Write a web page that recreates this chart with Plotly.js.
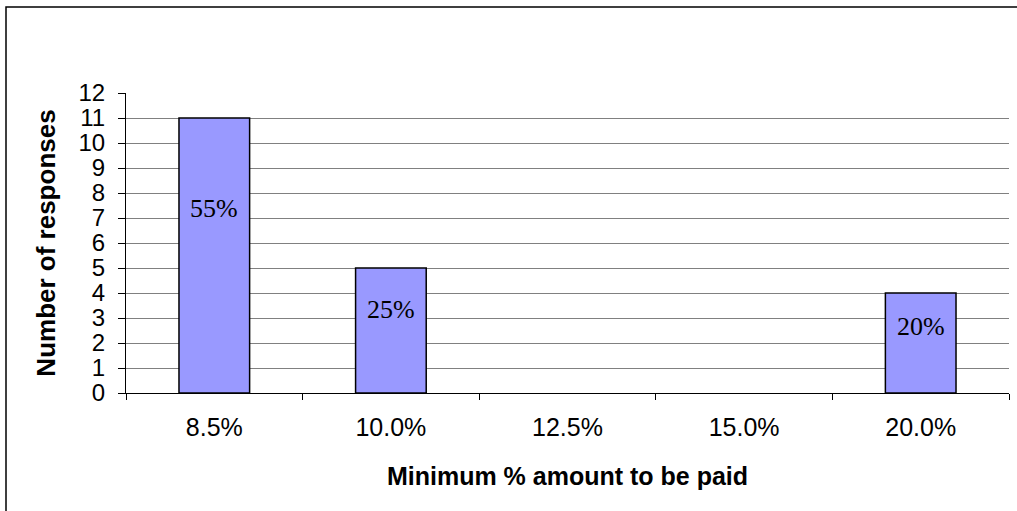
<!DOCTYPE html>
<html>
<head>
<meta charset="utf-8">
<script src="https://cdn.plot.ly/plotly-3.0.1.min.js"></script>
<style>html,body{margin:0;padding:0;background:#fff;}#chart{width:1017px;height:511px;}</style>
</head>
<body>
<div id="chart"></div>
<script>
const categories = ["8.5%", "10.0%", "12.5%", "15.0%", "20.0%"];
const responses = [11, 5, 0, 0, 4];
const shareLabels = ["55%", "25%", "", "", "20%"];
const yTicks = [0,1,2,3,4,5,6,7,8,9,10,11,12];
const gridTicks = [1,2,3,4,5,6,7,8,9,10,11];

const sans = "Liberation Sans, Arial, sans-serif";
const serif = "Liberation Serif, Times New Roman, serif";

const trace = {
  type: "bar",
  x: categories,
  y: responses,
  width: 0.4,
  marker: {color: "#9999FF", line: {color: "#000000", width: responses.map(v => v > 0 ? 1.5 : 0)}},
  hoverinfo: "none"
};
const gridTrace = {
  type: "scatter", x: [categories[0]], y: [null], yaxis: "y2", xaxis: "x", showlegend: false, hoverinfo: "none"
};

const annotations = categories.map((c, i) => ({
  x: c, y: responses[i] * 0.67, xref: "x", yref: "y",
  text: shareLabels[i], showarrow: false,
  font: {family: serif, size: 26, color: "#000"}
})).filter(a => a.text);

const layout = {
  width: 1017, height: 511,
  margin: {l: 126, r: 8, t: 93, b: 118},
  paper_bgcolor: "#fff", plot_bgcolor: "rgba(0,0,0,0)",
  showlegend: false,
  xaxis: {
    type: "category",
    tickson: "boundaries",
    ticks: "outside", ticklen: 6, tickcolor: "#000", tickwidth: 1,
    showline: true, linecolor: "#000", linewidth: 1,
    showgrid: false,
    tickfont: {family: sans, size: 25, color: "#000"},
    ticklabelstandoff: 12,
    title: {text: "<b>Minimum % amount to be paid</b>", font: {family: sans, size: 25, color: "#000"}, standoff: 27},
    automargin: false, fixedrange: true
  },
  yaxis: {
    range: [0, 12],
    tickvals: yTicks,
    ticks: "outside", ticklen: 7, tickcolor: "#000", tickwidth: 1,
    showline: true, linecolor: "#000", linewidth: 1,
    showgrid: false, zeroline: false,
    tickfont: {family: sans, size: 24, color: "#000"},
    ticklabelstandoff: 8,
    title: {text: "<b>Number of responses</b>", font: {family: sans, size: 26, color: "#000"}, standoff: 15},
    automargin: false, fixedrange: true
  },
  yaxis2: {
    overlaying: "y", range: [0, 12],
    tickvals: gridTicks, showticklabels: false, ticks: "",
    showgrid: true, gridcolor: "#808080", gridwidth: 1,
    zeroline: false, showline: false, fixedrange: true
  },
  annotations: annotations,
  shapes: [{
    type: "rect", xref: "paper", yref: "paper",
    x0: -0.1359, x1: 1.03, y0: -0.45, y1: 1.2867,
    line: {color: "#000", width: 1.5}, fillcolor: "rgba(0,0,0,0)", layer: "above"
  }]
};

Plotly.newPlot("chart", [gridTrace, trace], layout, {staticPlot: true});
</script>
</body>
</html>
